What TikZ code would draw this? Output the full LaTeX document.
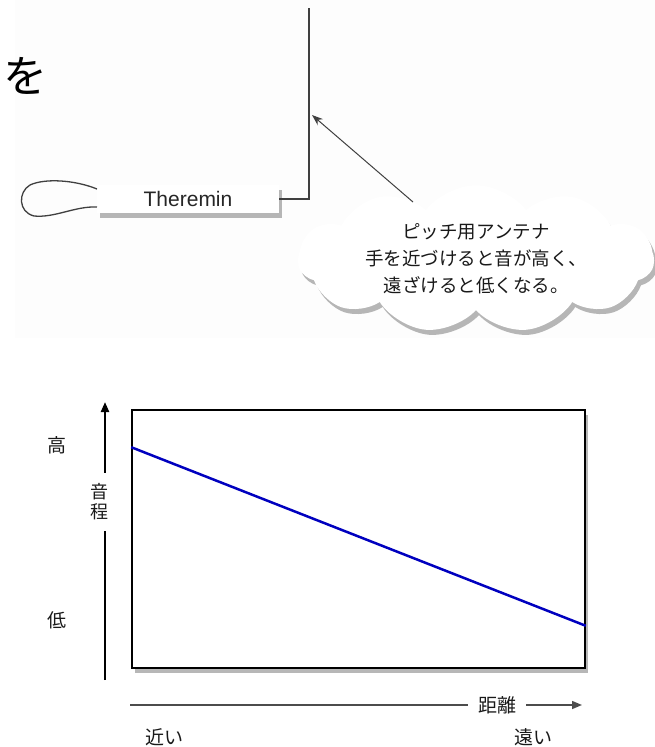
\documentclass[tikz,border=0pt]{standalone}
\usepackage{fontspec}
\setmainfont{Noto Sans CJK JP}
\newfontfamily\latfont{Liberation Sans}
\usetikzlibrary{shapes.symbols,shadows,arrows.meta,calc}
\begin{document}
\begin{tikzpicture}[x=1pt,y=-1pt,
  jp/.style={font=\fontsize{19}{27}\selectfont, text=black!90, inner sep=0pt},
  softshadow/.style={drop shadow={shadow xshift=3pt,shadow yshift=-5pt,opacity=.4,fill=black!70}},
  tip/.style={-{Triangle[length=10pt,width=8pt]}}
]
\useasboundingbox (0,0) rectangle (655,747);
\fill[black!0.7] (15,0) rectangle (655,338);

% big character at top-left
\node[anchor=west, inner sep=0pt, font=\fontsize{44}{44}\selectfont] (wo) at (3,76) {を};

% theremin body
\node[fill=white, minimum width=182pt, minimum height=28pt, inner sep=0pt, softshadow,
      font=\latfont\fontsize{21}{21}\selectfont, text=black!85] (thm) at (188,199) {Theremin};

% volume loop
\coordinate (lpA) at (97,189);
\coordinate (lpB) at (97,207);
\draw[black!75, line width=1.3pt] (lpA) .. controls (75,180) and (45,178) .. (30,185)
   .. controls (18,192) and (18,212) .. (34,216) .. controls (55,218) and (75,206) .. (lpB);

% pitch antenna
\coordinate (antTop) at (309,8);
\draw[black!75, line width=2.6pt] (thm.east) -| (antTop);

% cloud callout
\node[cloud, cloud puffs=11, cloud puff arc=105, aspect=2.9, minimum width=356pt, minimum height=118pt,
      fill=white, softshadow, align=center, jp, font=\fontsize{18.5}{27}\selectfont] (cl) at (476,259)
  {ピッチ用アンテナ\\手を近づけると音が高く、\\遠ざけると低くなる。};

\coordinate (arS) at (413,202);
\coordinate (arE) at (312,115);
\draw[black!75, line width=1pt, -{Stealth[length=11pt,width=8pt]}] (arS) -- (arE);

% graph
\node[draw=black, line width=1.6pt, fill=white, minimum width=453pt, minimum height=258pt,
      inner sep=0pt, softshadow] (gr) at (358.5,539) {};
\draw[blue!75!black, line width=2.5pt] ($(gr.north west)+(0,38)$) -- ($(gr.south east)+(0,-43)$);

% y axis
\coordinate (yb) at (105,680);
\coordinate (yt) at (105,402);
\node[jp, align=center, font=\fontsize{18}{20}\selectfont, outer sep=11pt] (ylab) at (99,502) {音\\程};
\draw[black, line width=2.2pt] (yb) -- (ylab.south -| yb);
\draw[black, line width=2.2pt, tip] (ylab.north -| yb) -- (yt);
\node[jp] (hi) at (57,445) {高};
\node[jp] (lo) at (57,620) {低};

% x axis
\coordinate (xl) at (130,705);
\coordinate (xr) at (582,705);
\node[jp, outer sep=10pt] (xlab) at (497,705) {距離};
\draw[black!70, line width=1.5pt] (xl) -- (xlab.west);
\draw[black!70, line width=1.5pt, tip] (xlab.east) -- (xr);
\node[jp] (near) at (164,737) {近い};
\node[jp] (far) at (533,737) {遠い};
\end{tikzpicture}
\end{document}
